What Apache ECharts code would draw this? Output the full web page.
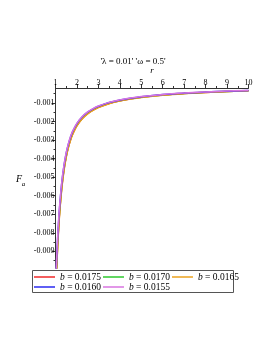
<!DOCTYPE html>
<html><head><meta charset="utf-8">
<script src="https://cdn.jsdelivr.net/npm/echarts@6/dist/echarts.min.js"></script>
<style>html,body{margin:0;padding:0;background:#fff}#c{width:273px;height:353px}</style>
</head><body><div id="c"></div>
<script>
const rValues = [1.02, 1.05, 1.1, 1.15, 1.2, 1.3, 1.4, 1.5, 1.6, 1.7, 1.8, 2.0, 2.25, 2.5, 2.75, 3, 3.5, 4, 4.5, 5, 6, 7, 8, 9, 10];
const seriesNames = ['b = 0.0175', 'b = 0.0170', 'b = 0.0165', 'b = 0.0160', 'b = 0.0155'];
const seriesColors = ['#f02828', '#2ec82e', '#eba21e', '#2a2af0', '#d874e0'];
const fa0175 = [-0.01094, -0.01002, -0.00872, -0.00767, -0.00681, -0.00550, -0.00457, -0.00389, -0.00338, -0.00299, -0.00267, -0.002215, -0.001832, -0.001571, -0.001380, -0.001235, -0.001026, -0.000882, -0.000776, -0.000693, -0.000573, -0.000488, -0.000427, -0.000379, -0.000341];
const fa0170 = [-0.01084, -0.00992, -0.00863, -0.00759, -0.00674, -0.00545, -0.00453, -0.00386, -0.00335, -0.00296, -0.00265, -0.002193, -0.001815, -0.001556, -0.001367, -0.001223, -0.001016, -0.000873, -0.000768, -0.000686, -0.000567, -0.000483, -0.000423, -0.000375, -0.000338];
const fa0165 = [-0.01105, -0.01011, -0.00880, -0.00774, -0.00687, -0.00555, -0.00462, -0.00393, -0.00342, -0.00301, -0.00270, -0.002236, -0.001850, -0.001586, -0.001394, -0.001247, -0.001036, -0.000890, -0.000783, -0.000700, -0.000578, -0.000493, -0.000432, -0.000383, -0.000344];
const fa0160 = [-0.01041, -0.00953, -0.00829, -0.00730, -0.00648, -0.00523, -0.00435, -0.00370, -0.00322, -0.00284, -0.00254, -0.002107, -0.001743, -0.001495, -0.001313, -0.001175, -0.000976, -0.000839, -0.000738, -0.000660, -0.000545, -0.000465, -0.000407, -0.000361, -0.000324];
const fa0155 = [-0.01031, -0.00943, -0.00821, -0.00722, -0.00641, -0.00518, -0.00431, -0.00367, -0.00319, -0.00281, -0.00252, -0.002086, -0.001726, -0.001479, -0.001300, -0.001163, -0.000966, -0.000830, -0.000730, -0.000653, -0.000539, -0.000460, -0.000403, -0.000357, -0.000321];
const seriesValues = [fa0175, fa0170, fa0165, fa0160, fa0155];
const yTickLabels = [-0.001, -0.002, -0.003, -0.004, -0.005, -0.006, -0.007, -0.008, -0.009];
const yMinorTicks = [-0.0005, -0.0015, -0.0025, -0.0035, -0.0045, -0.0055, -0.0065, -0.0075, -0.0085, -0.0095];
const xTickLabels = [1, 2, 3, 4, 5, 6, 7, 8, 9, 10];
const titleText = "'λ = 0.01' 'ω = 0.5'";

const chart = echarts.init(document.getElementById('c'), null, {renderer: 'canvas'});
const serif = 'Liberation Serif';
const axisColor = '#333';
const yMin = -0.0099, yMax = -0.00019;

const series = seriesNames.map((n, k) => ({
  name: n, type: 'line', xAxisIndex: 0, yAxisIndex: 0,
  data: rValues.map((r, i) => [r, seriesValues[k][i]]),
  showSymbol: false, symbol: 'none', smooth: 0.4,
  lineStyle: {width: 1.5, color: seriesColors[k]}, itemStyle: {color: seriesColors[k]},
  clip: true, animation: false
}));

const legendCommon = {
  orient: 'horizontal', icon: 'rect', itemWidth: 21, itemHeight: 1.5, itemGap: 2,
  textStyle: {fontFamily: serif, fontSize: 9.5, color: '#000', rich: {i: {fontStyle: 'italic', fontFamily: serif, fontSize: 9.5, color: '#000'}}},
  formatter: name => name.replace('b', '{i|b}'),
  padding: 0, selectedMode: false
};

chart.setOption({
  animation: false,
  backgroundColor: '#fff',
  grid: {left: 55.5, right: 24.5, top: 88, height: 180, containLabel: false},
  xAxis: {
    type: 'value', position: 'top', min: 1, max: 10, interval: 1,
    axisLine: {onZero: false, lineStyle: {color: axisColor, width: 1}},
    axisTick: {show: true, inside: false, length: 4, lineStyle: {color: axisColor}},
    minorTick: {show: true, splitNumber: 2, length: 2, lineStyle: {color: axisColor}},
    axisLabel: {margin: 1, fontFamily: serif, fontSize: 8, color: '#000', customValues: xTickLabels},
    splitLine: {show: false}
  },
  yAxis: [{
    type: 'value', position: 'left', min: yMin, max: yMax,
    axisLine: {show: true, onZero: false, lineStyle: {color: axisColor, width: 1}},
    axisTick: {show: true, inside: false, length: 4, customValues: yTickLabels, lineStyle: {color: axisColor}},
    axisLabel: {margin: 1, fontFamily: serif, fontSize: 8, color: '#000', customValues: yTickLabels, formatter: v => v.toFixed(3)},
    splitLine: {show: false}
  }, {
    type: 'value', position: 'left', min: yMin, max: yMax,
    axisLine: {show: false},
    axisTick: {show: true, inside: false, length: 2, customValues: yMinorTicks, lineStyle: {color: axisColor}},
    axisLabel: {show: false},
    splitLine: {show: false}
  }],
  legend: [
    Object.assign({}, legendCommon, {left: 34, top: 272, data: seriesNames.slice(0, 3)}),
    Object.assign({}, legendCommon, {left: 34, top: 282, data: seriesNames.slice(3)})
  ],
  graphic: [
    {type: 'rect', shape: {x: 32.5, y: 270.5, width: 201, height: 22}, style: {fill: 'none', stroke: '#555', lineWidth: 1}, silent: true},
    {type: 'text', x: 133, y: 62, style: {text: titleText, font: '9px "Liberation Serif"', fill: '#000', textAlign: 'center', textVerticalAlign: 'middle'}},
    {type: 'text', x: 152, y: 71, style: {text: 'r', font: 'italic 9px "Liberation Serif"', fill: '#000', textAlign: 'center', textVerticalAlign: 'middle'}},
    {type: 'text', x: 19, y: 179, style: {text: 'F', font: 'italic 10px "Liberation Serif"', fill: '#000', textAlign: 'center', textVerticalAlign: 'middle'}},
    {type: 'text', x: 23.5, y: 184.5, style: {text: 'a', font: 'italic 7px "Liberation Serif"', fill: '#000', textAlign: 'center', textVerticalAlign: 'middle'}}
  ],
  series: series
});
</script>
</body></html>
